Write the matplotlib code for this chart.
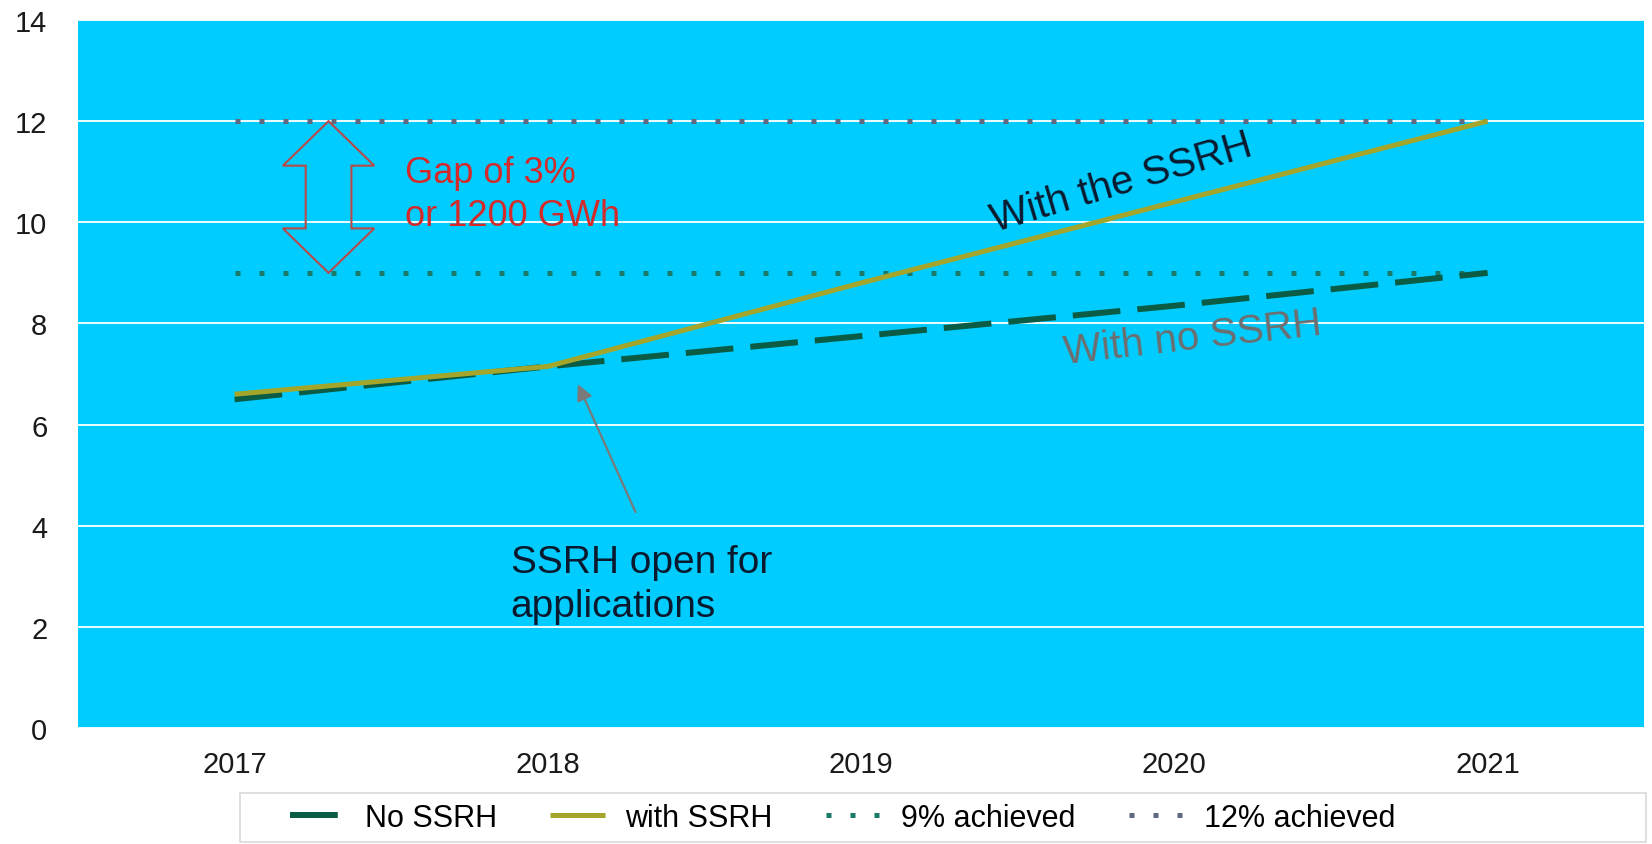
import matplotlib.pyplot as plt
from matplotlib.patches import Polygon, Rectangle
import numpy as np

# values
years = ["2017", "2018", "2019", "2020", "2021"]
no_ssrh = [6.5, 7.15, 7.75, 8.35, 9.0]
with_ssrh = [6.6, 7.15, 8.8, 10.4, 12.0]
achieved_9 = [9, 9, 9, 9, 9]
achieved_12 = [12, 12, 12, 12, 12]
yticks = [0, 2, 4, 6, 8, 10, 12, 14]

plt.rcParams['font.family'] = ['Liberation Sans', 'DejaVu Sans']

fig = plt.figure(figsize=(16.52, 8.45), dpi=100)
ax = fig.add_axes([0.0472, 0.1373, 0.948, 0.8378])
ax.set_facecolor('#00ccff')

x = np.arange(len(years))

# target lines (dotted, square dots)
l12, = ax.plot(x, achieved_12, color='#5f6a80', lw=3.6, dashes=(1, 3.8),
               dash_capstyle='butt', zorder=3)
l9, = ax.plot(x, achieved_9, color='#1a7a6a', lw=3.6, dashes=(1, 3.8),
              dash_capstyle='butt', zorder=3)
lno, = ax.plot(x, no_ssrh, color='#0a5c45', lw=4.3, dashes=(8.0, 2.85),
               dash_capstyle='butt', zorder=4)
lwith, = ax.plot(x, with_ssrh, color='#a4a62c', lw=3.6, zorder=5,
                 solid_capstyle='butt')

ax.set_xlim(-0.5, len(years) - 0.5)
ax.set_ylim(0, 14)
ax.set_xticks(x)
ax.set_xticklabels(years)
ax.set_yticks(yticks)
ax.yaxis.grid(True, color='white', lw=1.3)
ax.set_axisbelow(True)
ax.tick_params(axis='both', length=0, labelsize=21, labelcolor='#1a1a1a')
ax.tick_params(axis='y', pad=22)
ax.tick_params(axis='x', pad=16)
for s in ax.spines.values():
    s.set_visible(False)

# hollow double arrow between the 12% and 9% targets
top, bot = achieved_12[0], achieved_9[0]
xc, hw, sw, hh = 0.30, 0.146, 0.073, 0.88
pts = [(xc, top), (xc + hw, top - hh), (xc + sw, top - hh), (xc + sw, bot + hh),
       (xc + hw, bot + hh), (xc, bot), (xc - hw, bot + hh), (xc - sw, bot + hh),
       (xc - sw, top - hh), (xc - hw, top - hh)]
ax.add_patch(Polygon(pts, closed=True, fill=False, edgecolor='#b84a4a',
                     lw=1.5, zorder=6))

ax.text(0.544, 11.34, "Gap of 3%\nor 1200 GWh", color='#d42a2a', fontsize=26,
        ha='left', va='top', linespacing=1.3, zorder=7)

ax.text(2.833, 10.79, "With the SSRH", color='#0a1a2e', fontsize=29,
        rotation=16.5, rotation_mode='anchor', ha='center', va='center', zorder=7)
ax.text(3.06, 7.73, "With no SSRH", color='#6e6e6e', fontsize=29,
        rotation=6.5, rotation_mode='anchor', ha='center', va='center', zorder=7)

ax.text(0.882, 3.64, "SSRH open for\napplications", color='#0a1a2e', fontsize=28,
        ha='left', va='top', linespacing=1.3, zorder=7)
ax.annotate('', xy=(1.096, 6.80), xytext=(1.28, 4.27),
            arrowprops=dict(arrowstyle='-|>', color='#7a7a7a', lw=1.6,
                            mutation_scale=24, shrinkA=0, shrinkB=0), zorder=7)

# legend below the plot, with its own wide frame
fig.legend([lno, lwith, l9, l12],
           ["No SSRH", "with SSRH", "9% achieved", "12% achieved"],
           loc='center left', bbox_to_anchor=(290 / 1652, 0.0308), ncol=4,
           frameon=False, fontsize=22, handlelength=1.8, handletextpad=0.65,
           columnspacing=1.75, borderpad=0, borderaxespad=0)
fig.add_artist(Rectangle((240 / 1652, 2 / 845), 1406 / 1652, 49 / 845,
                         transform=fig.transFigure, fill=False,
                         edgecolor='#d9d9d9', lw=1.2))

fig.savefig('out.png', dpi=100, facecolor='white')
